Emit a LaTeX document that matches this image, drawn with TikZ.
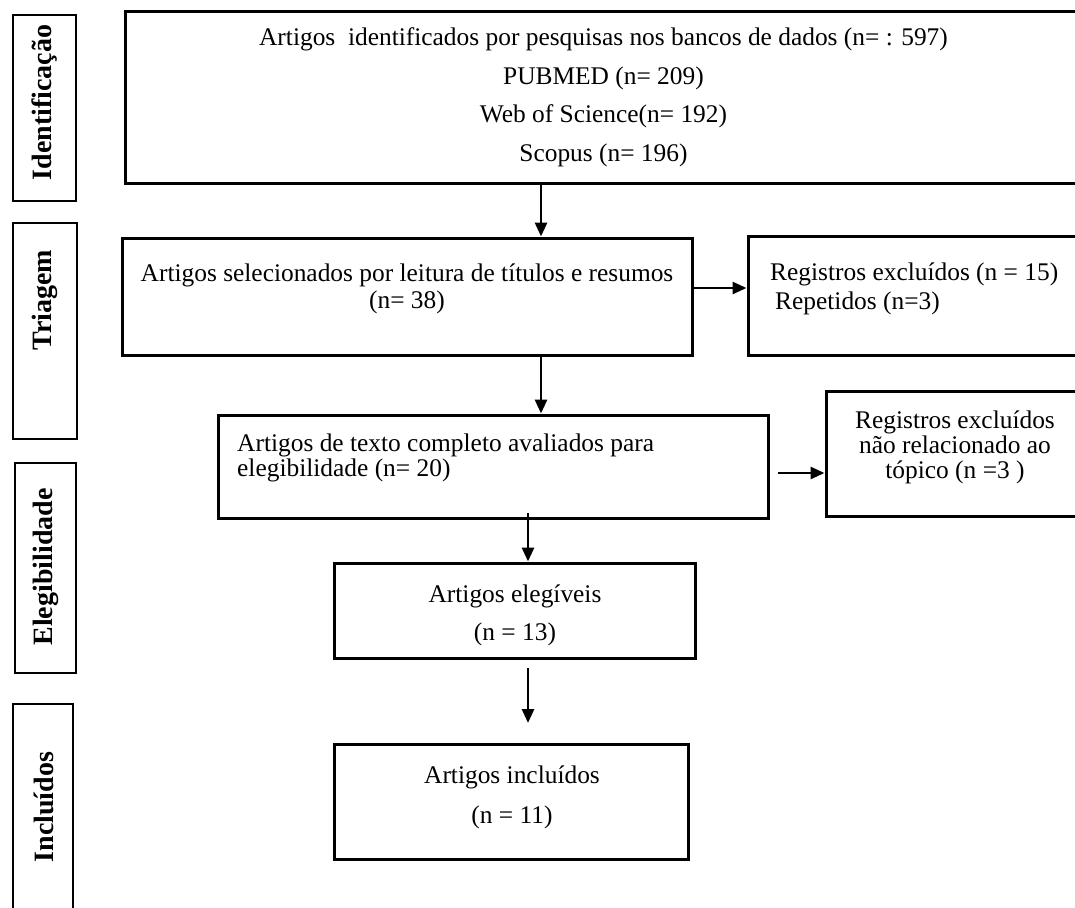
\documentclass[tikz,border=0pt]{standalone}
\usepackage{fontspec}
\setmainfont{Liberation Serif}
\usetikzlibrary{arrows.meta}
\tikzset{
  box/.style={draw, line width=3pt, inner sep=0pt, rectangle},
  lbox/.style={draw, line width=2.3pt, inner sep=0pt, rectangle},
  txt/.style={inner sep=0pt, align=center},
  lab/.style={inner sep=0pt, rotate=90, font=\bfseries\fontsize{28}{30}\selectfont},
  arr/.style={line width=2.8pt, -{Triangle[length=14pt,width=12pt]}}
}
\begin{document}
\begin{tikzpicture}[x=1pt,y=-1pt]
\useasboundingbox (0,0) rectangle (1075,907);
\clip (0,0) rectangle (1075,907);
\fill[white] (0,0) rectangle (1075,907);
% stage labels
\node[lbox, minimum width=63pt, minimum height=186pt] (L1) at (44.5,108) {};
\node[lbox, minimum width=64pt, minimum height=216pt] (L2) at (45,331) {};
\node[lbox, minimum width=61pt, minimum height=210pt] (L3) at (45.5,568) {};
\node[lbox, minimum width=60pt, minimum height=236pt] (L4) at (43,822) {};
\node[lab] (LT1) at (44.5,102.5) {Identificação};
\node[lab] (LT2) at (45,300) {Triagem};
\node[lab] (LT3) at (45.5,567) {Elegibilidade};
\node[lab] (LT4) at (44,807) {Incluídos};
% boxes
\node[box, minimum width=957pt, minimum height=171pt] (B1) at (603.5,97.5) {};
\node[box, minimum width=570pt, minimum height=117pt] (B2) at (407,296.5) {};
\node[box, minimum width=342pt, minimum height=119pt] (B3) at (919,295.5) {};
\node[box, minimum width=550pt, minimum height=103pt] (B4) at (493,466.5) {};
\node[box, minimum width=264pt, minimum height=125pt] (B5) at (958,453.5) {};
\node[box, minimum width=361pt, minimum height=95pt] (B6) at (514.5,610.5) {};
\node[box, minimum width=354pt, minimum height=115pt] (B7) at (511,801.5) {};
% texts
\node[txt, font=\fontsize{25.4}{38.5}\selectfont] (T1) at (603.5,97.5)
  {Artigos\ \ identificados por pesquisas nos bancos de dados (n= : 597)\\PUBMED (n= 209)\\Web of Science(n= 192)\\Scopus (n= 196)};
\node[txt, font=\fontsize{25.4}{27}\selectfont] (T2) at (407,288.5)
  {Artigos selecionados por leitura de títulos e resumos\\(n= 38)};
\node[txt, align=left, anchor=west, font=\fontsize{25.4}{29}\selectfont] (T3) at (770,289)
  {Registros excluídos (n = 15)\\\hspace*{5pt}Repetidos (n=3)};
\node[txt, align=left, anchor=west, font=\fontsize{25.4}{25}\selectfont] (T4) at (237,458)
  {Artigos de texto completo avaliados para\\elegibilidade (n= 20)};
\node[txt, font=\fontsize{25.4}{25}\selectfont] (T5) at (955,447)
  {Registros excluídos\\não relacionado ao\\tópico (n =3 )};
\node[txt, font=\fontsize{25.4}{38}\selectfont] (T6) at (515,615)
  {Artigos elegíveis\\(n = 13)};
\node[txt, font=\fontsize{25.4}{40}\selectfont] (T7) at (512,797)
  {Artigos incluídos\\(n = 11)};
% arrows
\coordinate (a1) at (541,0);
\coordinate (a2) at (0,288);
\coordinate (a4) at (778,473);
\coordinate (a5) at (528,513);
\coordinate (a6) at (528,668);
\coordinate (a6e) at (528,723);
\draw[arr] (B1.south -| a1) -- (B2.north -| a1);
\draw[arr] (B2.east |- a2) -- (B3.west |- a2);
\draw[arr] (B2.south -| a1) -- (B4.north -| a1);
\draw[arr] (a4) -- (B5.west |- a4);
\draw[arr] (a5) -- (B6.north -| a5);
\draw[arr] (a6) -- (a6e);
\end{tikzpicture}
\end{document}
